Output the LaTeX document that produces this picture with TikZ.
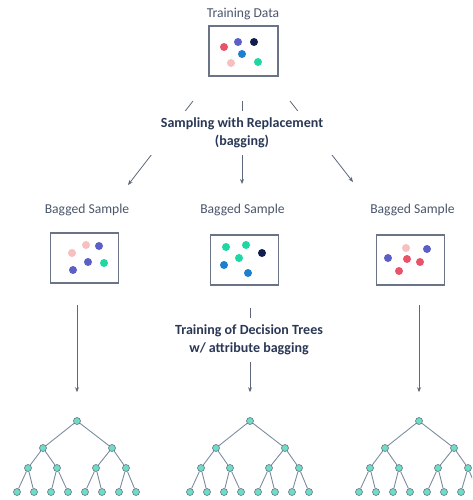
\documentclass[tikz,border=0pt]{standalone}
\usepackage{fontspec}
\setmainfont{Carlito}
\usepackage{tikz}
\usetikzlibrary{positioning,arrows.meta}

\definecolor{txtgray}{HTML}{4A566B}
\definecolor{txtdark}{HTML}{2A3856}
\definecolor{linegray}{HTML}{5E687A}
\definecolor{boxgray}{HTML}{6B7386}
\definecolor{edgegray}{HTML}{7E8CA0}
\definecolor{leafteal}{HTML}{6EDDC6}
\definecolor{dred}{HTML}{E8536A}
\definecolor{dpink}{HTML}{F7BFC0}
\definecolor{dpurple}{HTML}{5B5FC7}
\definecolor{dnavy}{HTML}{0F1D4F}
\definecolor{dblue}{HTML}{1C7FCF}
\definecolor{dteal}{HTML}{20D6A2}

\begin{document}
\begin{tikzpicture}[x=1pt,y=-1pt,
	lbl/.style={text=txtgray,font=\fontsize{13.6}{16}\selectfont},
	steplbl/.style={text=txtdark,font=\bfseries\fontsize{14}{18}\selectfont,
		align=center,fill=white,inner sep=0pt},
	samplebox/.style={draw=boxgray,line width=1.1pt,minimum width=68pt,minimum height=50pt,inner sep=0pt},
	arr/.style={draw=linegray,line width=0.8pt,-{Stealth[length=5pt,width=4pt]}},
	tnode/.style={circle,draw=boxgray,line width=0.6pt,fill=leafteal,minimum size=7pt,inner sep=0pt},
	tedge/.style={draw=edgegray,line width=0.9pt}]
	\useasboundingbox (0,0) rectangle (472,500);
	\clip (0,0) rectangle (472,500);

	%% training data
	\node[lbl] (td) at (243,14) {Training Data};
	\node[samplebox,minimum width=69pt] (tdbox) at (243.5,51) {};
	\fill[dred] (224,47) circle[radius=4pt];
	\fill[dpurple] (238,42) circle[radius=4pt];
	\fill[dnavy] (254,42) circle[radius=4pt];
	\fill[dblue] (242,54) circle[radius=4pt];
	\fill[dpink] (231,63) circle[radius=4pt];
	\fill[dteal] (258,62) circle[radius=4pt];

	%% bagged samples
	\node[samplebox] (sl) at (84.5,258) {};
	\node[samplebox] (sm) at (244.5,260) {};
	\node[samplebox] (sr) at (410.5,260) {};
	\node[lbl] (bl) at (87,210) {Bagged Sample};
	\node[lbl] (bm) at (242.5,210) {Bagged Sample};
	\node[lbl] (br) at (412.5,210) {Bagged Sample};
	% points of each sample
	\fill[dpink] (72,253) circle[radius=4pt];
	\fill[dpink] (86,245) circle[radius=4pt];
	\fill[dpurple] (99,246) circle[radius=4pt];
	\fill[dpurple] (88,262) circle[radius=4pt];
	\fill[dteal] (104,263) circle[radius=4pt];
	\fill[dpurple] (73,270) circle[radius=4pt];
	\fill[dteal] (226,247) circle[radius=4pt];
	\fill[dteal] (246,245) circle[radius=4pt];
	\fill[dnavy] (262,253) circle[radius=4pt];
	\fill[dblue] (224,265) circle[radius=4pt];
	\fill[dteal] (239,258) circle[radius=4pt];
	\fill[dblue] (248,273) circle[radius=4pt];
	\fill[dpink] (406,248) circle[radius=4pt];
	\fill[dpurple] (427,249) circle[radius=4pt];
	\fill[dpurple] (388,258) circle[radius=4pt];
	\fill[dred] (407,259) circle[radius=4pt];
	\fill[dred] (420,262) circle[radius=4pt];
	\fill[dred] (399,271) circle[radius=4pt];

	%% bootstrap arrows
	\coordinate (s1) at (193,101);
	\coordinate (s2) at (242,101);
	\coordinate (s3) at (290,101);
	\coordinate (e1) at (128,185);
	\coordinate (e2) at (242,184);
	\coordinate (e3) at (353,182);
	\draw[arr] (s1) -- (e1);
	\draw[arr] (s2) -- (e2);
	\draw[arr] (s3) -- (e3);
	\node[steplbl,minimum width=192pt,minimum height=44pt] (sampling) at (242,133)
		{Sampling with Replacement\\(bagging)};

	%% decision trees
	\foreach \tx/\tn in {77/a,250/b,419/c}{
		\node[tnode] (\tn0) at (\tx,421) {};
		\node[tnode] (\tn1) at (\tx-34,448) {};
		\node[tnode] (\tn2) at (\tx+35,448) {};
		\node[tnode] (\tn3) at (\tx-49,468) {};
		\node[tnode] (\tn4) at (\tx-20,468) {};
		\node[tnode] (\tn5) at (\tx+19,468) {};
		\node[tnode] (\tn6) at (\tx+49,468) {};
		\foreach \k in {0,...,7}
			\node[tnode] (\tn l\k) at (\tx-60+17*\k,492) {};
		\draw[tedge] (\tn0) -- (\tn1) (\tn0) -- (\tn2)
			(\tn1) -- (\tn3) (\tn1) -- (\tn4) (\tn2) -- (\tn5) (\tn2) -- (\tn6)
			(\tn3) -- (\tn l0) (\tn3) -- (\tn l1) (\tn4) -- (\tn l2) (\tn4) -- (\tn l3)
			(\tn5) -- (\tn l4) (\tn5) -- (\tn l5) (\tn6) -- (\tn l6) (\tn6) -- (\tn l7);
	}

	%% training arrows
	\coordinate (u1) at (77,305);
	\coordinate (u2) at (250,308);
	\coordinate (u3) at (419,305);
	\draw[arr,shorten >=25pt] (u1) -- (a0);
	\draw[arr,shorten >=25pt] (u2) -- (b0);
	\draw[arr,shorten >=25pt] (u3) -- (c0);
	\node[steplbl,minimum width=190pt,minimum height=44pt] (training) at (249,340)
		{Training of Decision Trees\\w/ attribute bagging};
\end{tikzpicture}
\end{document}
